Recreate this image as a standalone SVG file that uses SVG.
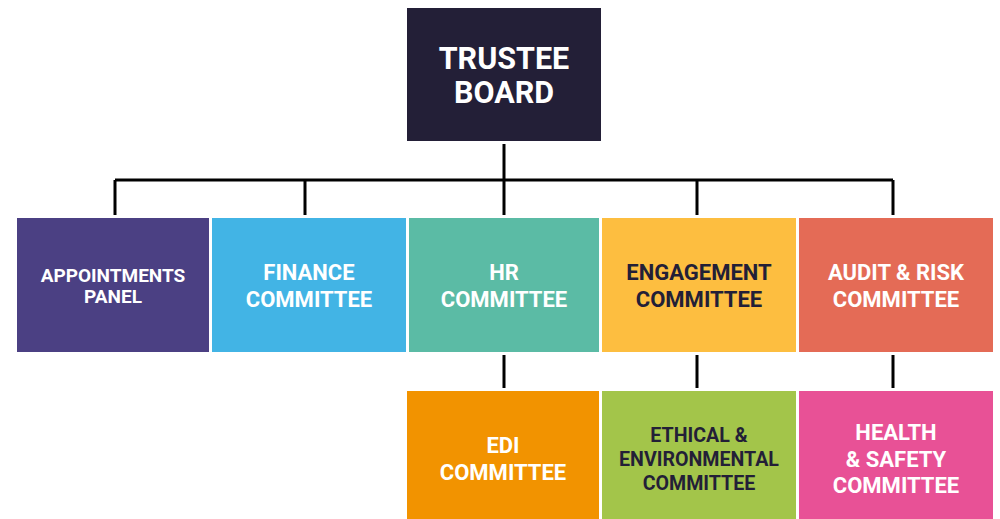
<svg xmlns="http://www.w3.org/2000/svg" width="1000" height="519" viewBox="0 0 1000 519">
<style>
text{font-family:Roboto,"Open Sans","Liberation Sans",sans-serif;font-weight:700;text-anchor:middle}
.w{fill:#ffffff}
.d{fill:#231f37}
.l{font-size:22px}
.s{font-size:19px}
.e{font-size:19.6px}
.t{font-size:30.5px}
.c{stroke:#000;stroke-width:3;fill:none}
</style>
<rect width="1000" height="519" fill="#ffffff"/>
<g id="connectors">
<path class="c" d="M504 144V180M115 180H893M115 180V215M305 180V215M504 180V215M697 180V215M893 180V215"/>
<path class="c" d="M504 355V388M697 355V388M893 355V388"/>
</g>
<g id="trustee-board">
<rect x="407" y="8" width="194" height="133" fill="#231f37"/>
<text class="t w" x="504" y="69">TRUSTEE</text>
<text class="t w" x="504" y="103">BOARD</text>
</g>
<g id="appointments-panel">
<rect x="17" y="218" width="192" height="134" fill="#4b4083"/>
<text class="s w" x="113" y="282">APPOINTMENTS</text>
<text class="s w" x="113" y="303">PANEL</text>
</g>
<g id="finance-committee">
<rect x="212" y="218" width="194" height="134" fill="#42b4e5"/>
<text class="l w" x="309" y="280">FINANCE</text>
<text class="l w" x="309" y="307">COMMITTEE</text>
</g>
<g id="hr-committee">
<rect x="409" y="218" width="190" height="134" fill="#5bbba5"/>
<text class="l w" x="504" y="280">HR</text>
<text class="l w" x="504" y="307">COMMITTEE</text>
</g>
<g id="engagement-committee">
<rect x="602" y="218" width="194" height="134" fill="#fdbe40"/>
<text class="l d" x="699" y="280">ENGAGEMENT</text>
<text class="l d" x="699" y="307">COMMITTEE</text>
</g>
<g id="audit-risk-committee">
<rect x="799" y="218" width="194" height="134" fill="#e46b56"/>
<text class="l w" x="896" y="280">AUDIT &amp; RISK</text>
<text class="l w" x="896" y="307">COMMITTEE</text>
</g>
<g id="edi-committee">
<rect x="407" y="391" width="192" height="128" fill="#f29300"/>
<text class="l w" x="503" y="453">EDI</text>
<text class="l w" x="503" y="480">COMMITTEE</text>
</g>
<g id="ethical-environmental-committee">
<rect x="602" y="391" width="194" height="128" fill="#a3c54a"/>
<text class="e d" x="699" y="442">ETHICAL &amp;</text>
<text class="e d" x="699" y="466">ENVIRONMENTAL</text>
<text class="e d" x="699" y="490">COMMITTEE</text>
</g>
<g id="health-safety-committee">
<rect x="799" y="391" width="194" height="128" fill="#e85196"/>
<text class="l w" x="896" y="440">HEALTH</text>
<text class="l w" x="896" y="467">&amp; SAFETY</text>
<text class="l w" x="896" y="493">COMMITTEE</text>
</g>
</svg>
